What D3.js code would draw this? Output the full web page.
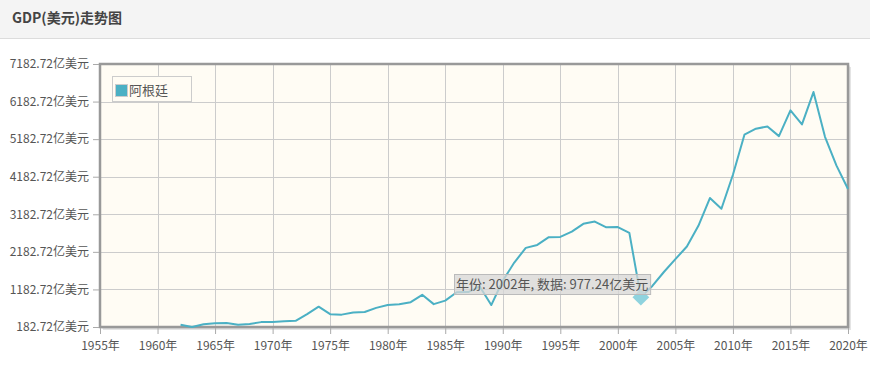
<!DOCTYPE html>
<html><head><meta charset="utf-8">
<script src="https://cdn.jsdelivr.net/npm/d3@7/dist/d3.min.js"></script>
<style>
body{margin:0;background:#fff;font-family:"Microsoft YaHei","Noto Sans CJK SC",sans-serif;}
</style></head>
<body>
<svg id="c" width="870" height="369"></svg>
<script>
const title = "GDP(美元)走势图";
const seriesName = "阿根廷";
const years = [1962,1963,1964,1965,1966,1967,1968,1969,1970,1971,1972,1973,1974,1975,1976,1977,1978,1979,1980,1981,1982,1983,1984,1985,1986,1987,1988,1989,1990,1991,1992,1993,1994,1995,1996,1997,1998,1999,2000,2001,2002,2003,2004,2005,2006,2007,2008,2009,2010,2011,2012,2013,2014,2015,2016,2017,2018,2019,2020];
const gdp = [244.5,182.72,256.0,283.4,286.3,242.6,264.4,312.6,315.8,332.9,347.3,525.4,724.4,524.4,511.7,567.8,580.8,692.5,769.6,786.8,843.1,1039.8,790.9,884.2,1109.3,1111.1,1262.1,766.4,1413.5,1897.2,2287.9,2367.4,2574.4,2580.3,2721.5,2928.6,2989.5,2835.2,2842.0,2687.0,977.24,1275.9,1646.6,1987.4,2325.6,2875.3,3615.6,3329.8,4236.3,5301.6,5459.8,5520.3,5263.2,5947.5,5575.3,6436.3,5244.3,4477.5,3855.4];
const yTicks = [182.72,1182.72,2182.72,3182.72,4182.72,5182.72,6182.72,7182.72];
const xTicks = [1955,1960,1965,1970,1975,1980,1985,1990,1995,2000,2005,2010,2015,2020];
const tipYear = 2002;

const svg = d3.select("#c");
// header
svg.append("rect").attr("x",0).attr("y",0).attr("width",870).attr("height",38).attr("fill","#f4f4f4");
svg.append("line").attr("x1",0).attr("x2",870).attr("y1",38.5).attr("y2",38.5).attr("stroke","#dcdcdc");
svg.append("text").attr("x",12).attr("y",23).text(title)
  .attr("font-family","'Noto Sans CJK SC',serif").attr("font-weight","bold").attr("font-size",14).attr("fill","#444");

const L=100,R=848,T=64,B=327;
const x = d3.scaleLinear().domain([1955,2020]).range([L,R]);
const y = d3.scaleLinear().domain([182.72,7182.72]).range([B,T]);

// shadow
svg.append("rect").attr("x",L+3).attr("y",T+3).attr("width",R-L).attr("height",B-T).attr("fill","#e4e4e4");
svg.append("rect").attr("x",L+1.5).attr("y",T+1.5).attr("width",R-L).attr("height",B-T).attr("fill","#cfcfcf");
svg.append("rect").attr("x",L).attr("y",T).attr("width",R-L).attr("height",B-T).attr("fill","#fffcf4");

// grid
const g = svg.append("g");
g.selectAll(".gy").data(yTicks).join("line").attr("x1",L).attr("x2",R)
  .attr("y1",d=>Math.round(y(d))+0.5).attr("y2",d=>Math.round(y(d))+0.5).attr("stroke","#cccccc");
g.selectAll(".gx").data(xTicks).join("line").attr("y1",T).attr("y2",B)
  .attr("x1",d=>Math.round(x(d))+0.5).attr("x2",d=>Math.round(x(d))+0.5).attr("stroke","#cccccc");

// border
svg.append("rect").attr("x",L).attr("y",T).attr("width",R-L).attr("height",B-T)
  .attr("fill","none").attr("stroke","#999").attr("stroke-width",2.5);

// axes
const yAxis = d3.axisLeft(y).tickValues(yTicks).tickSize(6).tickPadding(4).tickFormat(d=>d3.format(".2f")(d)+"亿美元");
const ya = svg.append("g").attr("transform",`translate(${L-1},0)`).call(yAxis);
ya.select(".domain").remove();
ya.selectAll(".tick line").attr("stroke","#aaa");
ya.selectAll("text").attr("fill","#555").attr("font-size",12).attr("font-family","'Microsoft YaHei','Noto Sans CJK SC',sans-serif");

const xAxis = d3.axisBottom(x).tickValues(xTicks).tickSize(6).tickPadding(7).tickFormat(d=>d+"年");
const xa = svg.append("g").attr("transform",`translate(0,${B+1})`).call(xAxis);
xa.select(".domain").remove();
xa.selectAll(".tick line").attr("stroke","#aaa");
xa.selectAll("text").attr("fill","#555").attr("font-size",12).attr("font-family","'Microsoft YaHei','Noto Sans CJK SC',sans-serif");

// line
const data = years.map((yr,i)=>({yr,v:gdp[i]}));
svg.append("path").datum(data).attr("fill","none").attr("stroke","#4bb0c4").attr("stroke-width",2)
  .attr("stroke-linejoin","round")
  .attr("d",d3.line().x(d=>x(d.yr)).y(d=>y(d.v)));

// legend
svg.append("rect").attr("x",112.5).attr("y",76.5).attr("width",79).attr("height",25).attr("fill","#fffcf4").attr("stroke","#ccc");
svg.append("rect").attr("x",115.5).attr("y",84.5).attr("width",12).attr("height",12).attr("fill","#4bb0c4").attr("stroke","#ccc");
svg.append("text").attr("x",129).attr("y",95).text(seriesName).attr("font-size",13).attr("fill","#555");

// tooltip marker
const tp = data.find(d=>d.yr===tipYear);
const mx=x(tp.yr), my=y(tp.v);
svg.append("path").attr("d",d3.symbol().type(d3.symbolDiamond2).size(180)())
  .attr("transform",`translate(${mx},${my})`).attr("fill","#8fd3de");
const tipText = `年份: ${tp.yr}年, 数据: ${d3.format(".2f")(tp.v)}亿美元`;
const tg = svg.append("g");
const tt = tg.append("text").attr("x",456).attr("y",289).text(tipText).attr("font-size",13).attr("fill","#555");
const bb = tt.node().getBBox();
tg.insert("rect","text").attr("x",454.5).attr("y",274.5).attr("width",Math.max(184,bb.width+4)).attr("height",20)
  .attr("fill","rgba(215,215,215,0.75)").attr("stroke","#bbb");
</script>
</body></html>
